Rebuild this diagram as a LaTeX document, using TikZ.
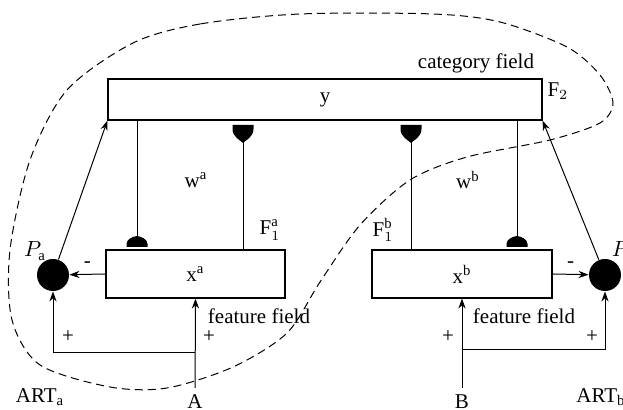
\documentclass[tikz,border=0pt]{standalone}
\usepackage{fontspec}
\setmainfont{Liberation Serif}
\usetikzlibrary{arrows.meta}
\tikzset{
    field/.style={draw, rectangle, line width=0.6pt, inner sep=0pt},
    sum/.style={circle, fill=black, inner sep=0pt, minimum size=16pt},
    inhibdown/.pic={
        \fill (-10.5,0) -- (10.5,0) -- (10.5,4) .. controls (10.5,12) and (3,15) .. (0,18)
            .. controls (-3,15) and (-10.5,12) .. (-10.5,4) -- cycle;},
    inhibup/.pic={
        \fill (-10.5,0) -- (10.5,0) -- (10.5,-3) .. controls (10.5,-8) and (4,-10.5) .. (0,-11)
            .. controls (-4,-10.5) and (-10.5,-8) .. (-10.5,-3) -- cycle;},
    >={Stealth[length=5pt,width=3.6pt]}}

\begin{document}
\begin{tikzpicture}[x=0.5pt, y=-0.5pt, line width=0.5pt, font=\fontsize{10.5}{12}\selectfont]
        \useasboundingbox (0,0) rectangle (623,410);
        \clip (0,0) rectangle (623,410);

            % fields
            \node[field, minimum width=217pt, minimum height=20.5pt] (F2) at (325,99.5) {y};
            \node[field, minimum width=89.5pt, minimum height=24pt] (xa) at (195.5,274) {$\mathrm{x}^{\mathrm{a}}$};
            \node[field, minimum width=90pt, minimum height=24pt] (xb) at (462,274) {$\mathrm{x}^{\mathrm{b}}$};
            \node[sum] (Pa) at (53,275) {};
            \node[sum] (Pb) at (605,275) {};
            \node (A) at (195,402) {A};
            \node (B) at (462,402) {B};

            % labels
            \node (cat) at (476,63) {category field};
            \node[anchor=west, inner sep=0pt] (F2l) at (547,91) {F$_2$};
            \node (F1a) at (270,230) {$\mathrm{F}_1^{\mathrm{a}}$};
            \node (F1b) at (383,230) {$\mathrm{F}_1^{\mathrm{b}}$};
            \node (wa) at (196,180) {$\mathrm{w}^{\mathrm{a}}$};
            \node (wb) at (468,180) {$\mathrm{w}^{\mathrm{b}}$};
            \node (ffa) at (259,316) {feature field};
            \node (ffb) at (524,316) {feature field};
            \node (Pal) at (35,251) {$P_{\mathrm{a}}$};
            \node (Pbl) at (623,251) {$P_{\mathrm{b}}$};
            \node (ARTa) at (40,397) {ART$_{\mathrm{a}}$};
            \node (ARTb) at (601,397) {ART$_{\mathrm{b}}$};
            \node (pa1) at (68,337) {+};
            \node (pa2) at (209,337) {+};
            \node (pb1) at (448,337) {+};
            \node (pb2) at (592,337) {+};

            % adaptive weights
            \coordinate (ia) at (137,247);
            \coordinate (ja) at (243,125);
            \coordinate (ib) at (517,247);
            \coordinate (jb) at (411,125);
            \pic at (ia) {inhibup};
            \pic at (ib) {inhibup};
            \pic at (ja) {inhibdown};
            \pic at (jb) {inhibdown};
            \draw (F2.south -| ia) -- (ia);
            \draw (F2.south -| ib) -- (ib);
            \draw (xa.north -| ja) -- (ja);
            \draw (xb.north -| jb) -- (jb);

            % inputs
            \coordinate (ka) at (195,353);
            \coordinate (kb) at (462,350);
            \draw[->] (A) -- (xa.south);
            \draw[->] (B) -- (xb.south);
            \draw[->] (ka) -| (Pa);
            \draw[->] (kb) -| (Pb);

            \draw[->] (xa.west) -- (Pa) node[midway, above] {-};
            \draw[->] (xb.east) -- (Pb) node[midway, above] {-};
            \draw[->] (Pa) -- (F2.south west);
            \draw[->] (Pb) -- (F2.south east);

            % ARTMAP boundary
            \draw[dashed, dash pattern=on 4pt off 2.5pt] plot[smooth cycle] coordinates {
                (300,14) (200,24) (133,43) (67,90) (30,160) (10,250) (12,320) (40,365)
                (110,387) (167,388) (233,367) (287,333) (320,282) (360,225) (410,180)
                (467,157) (550,140) (600,123) (613,103) (600,75) (567,47) (500,22) (433,14)};

        \end{tikzpicture}
\end{document}
